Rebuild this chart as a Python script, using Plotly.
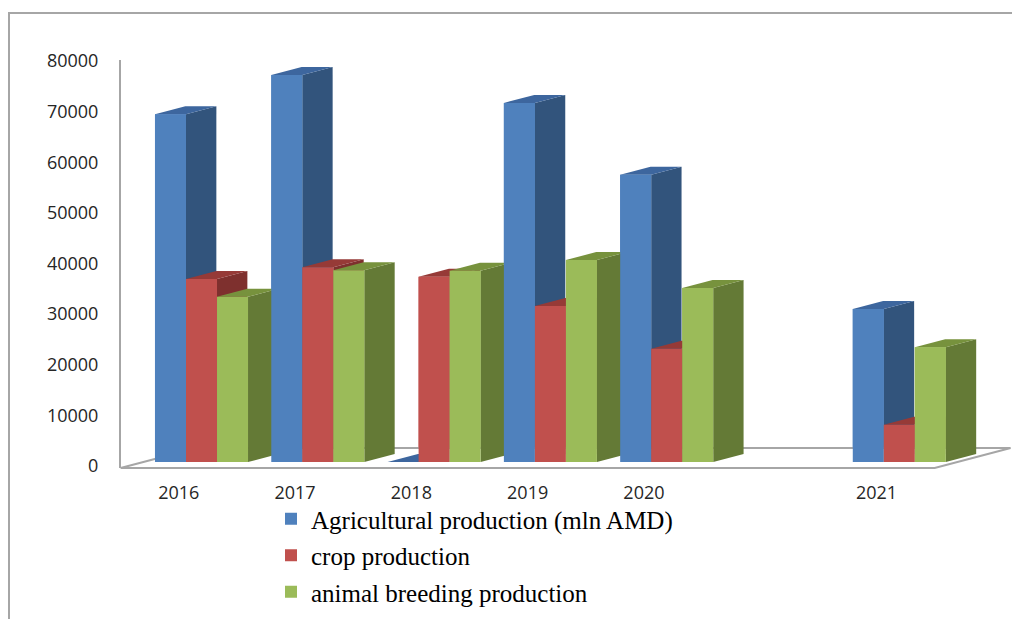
import plotly.graph_objects as go

# ---- data -------------------------------------------------------------
categories = ["2016", "2017", "2018", "2019", "2020", "", "2021"]
agricultural = [68200, 75900, 0, 70400, 56300, None, 30000]
crop = [35900, 38200, 36300, 30600, 22200, None, 7300]
animal = [32400, 37600, 37500, 39600, 34100, None, 22500]

series_names = [
    "Agricultural production (mln AMD)",
    "crop production",
    "animal breeding production",
]
series_values = [agricultural, crop, animal]
y_ticks = [0, 10000, 20000, 30000, 40000, 50000, 60000, 70000, 80000]

# ---- styling ----------------------------------------------------------
front_colors = ["#4F81BD", "#C0504D", "#9BBB59"]
side_colors = ["#32547C", "#7E302E", "#647A36"]
top_colors = ["#3D669E", "#963A37", "#77923D"]

W, H = 1012, 619
X_RANGE = [-1.7326, 6.969]          # category units across the full width
Y_RANGE = [-30784, 90588]           # value units across the full height
GROUP_WIDTH = 0.8
BAR_W = GROUP_WIDTH / 3
DX, DY = 0.261, 1570                # oblique depth of one bar (x units, value units)
FLOOR_FRONT, FLOOR_BACK = -0.75, 1.75   # floor edges, in bar depths
AXIS_FONT = dict(family="Open Sans", size=18, color="#262626")

fig = go.Figure()


def polygon(xs, ys, color, line_color=None, line_width=0):
    return go.Scatter(
        x=xs + [xs[0]], y=ys + [ys[0]], mode="lines", fill="toself",
        fillcolor=color, line=dict(width=line_width, color=line_color or color),
        hoverinfo="skip", showlegend=False,
    )


# legend / front faces as real bars (repainted below in depth order)
for k, (name, vals, col) in enumerate(zip(series_names, series_values, front_colors)):
    fig.add_trace(go.Bar(
        x=list(range(len(categories))), y=vals, name=name, legendgroup=f"g{k}",
        marker=dict(color=col, line=dict(width=0)),
    ))

# floor of the 3-D plot
n = len(categories)
fx0, fx1 = -0.5, n - 0.5
fig.add_trace(polygon(
    [fx0 + FLOOR_FRONT * DX, fx1 + FLOOR_FRONT * DX, fx1 + FLOOR_BACK * DX, fx0 + FLOOR_BACK * DX],
    [FLOOR_FRONT * DY, FLOOR_FRONT * DY, FLOOR_BACK * DY, FLOOR_BACK * DY],
    "white", line_color="#A6A6A6", line_width=2,
))

# columns painted left to right: side, top, then front face
for i in range(n):
    for s, vals in enumerate(series_values):
        v = vals[i]
        if v is None:
            continue
        x0 = i - GROUP_WIDTH / 2 + s * BAR_W
        x1 = x0 + BAR_W
        fig.add_trace(polygon([x1, x1 + DX, x1 + DX, x1], [0, DY, v + DY, v], side_colors[s]))
        fig.add_trace(polygon([x0, x1, x1 + DX, x0 + DX], [v, v, v + DY, v + DY], top_colors[s]))
        fig.add_trace(polygon([x0, x1, x1, x0], [0, 0, v, v], front_colors[s]))

# value axis lives on its own subplot
fig.add_trace(go.Scatter(x=[None], y=[None], xaxis="x", yaxis="y2",
                         showlegend=False, hoverinfo="skip"))

axis_x_px = 120
y2_bottom_px, y2_top_px = 468, 60
fig.update_layout(
    template="none",
    width=W, height=H,
    margin=dict(l=0, r=0, t=0, b=0, pad=0, autoexpand=False),
    paper_bgcolor="white", plot_bgcolor="rgba(0,0,0,0)",
    barmode="group", bargap=0.2, bargroupgap=0,
    showlegend=True,
    legend=dict(
        x=271 / W, y=1 - 496 / H, xanchor="left", yanchor="top",
        font=dict(family="Liberation Serif", size=25, color="black"),
        bgcolor="rgba(0,0,0,0)", traceorder="grouped", tracegroupgap=1,
    ),
    xaxis=dict(
        range=X_RANGE, showgrid=False, zeroline=False, showline=False, ticks="",
        tickmode="array", automargin=False,
        tickvals=[i + FLOOR_FRONT * DX for i in range(n)], ticktext=categories,
        anchor="free", position=1 - y2_bottom_px / H, ticklabelstandoff=12,
        tickfont=AXIS_FONT,
    ),
    yaxis=dict(range=Y_RANGE, visible=False, fixedrange=True, automargin=False),
    yaxis2=dict(
        domain=[1 - y2_bottom_px / H, 1 - y2_top_px / H],
        range=[-395, 80198], automargin=False,
        anchor="free", position=axis_x_px / W, side="left",
        tickmode="array", tickvals=y_ticks, tickformat="d",
        showgrid=False, zeroline=False, ticks="",
        showline=True, linecolor="#A6A6A6", linewidth=2,
        ticklabelstandoff=17, tickfont=AXIS_FONT,
    ),
    shapes=[dict(
        type="path", xref="paper", yref="paper",
        path=f"M {9 / W},0 L {9 / W},{1 - 13 / H} L 1,{1 - 13 / H}",
        line=dict(color="#A6A6A6", width=2),
    )],
)

fig.write_html("out.html")
